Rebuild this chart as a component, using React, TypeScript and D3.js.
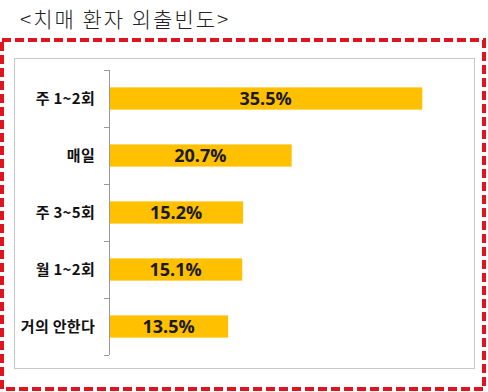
import React from "react";
import * as d3 from "d3";

const width = 488;
const height = 392;
const title = "<치매 환자 외출빈도>";
const categories = ["주 1~2회", "매일", "주 3~5회", "월 1~2회", "거의 안한다"];
const values = [35.5, 20.7, 15.2, 15.1, 13.5];
const domainMax = 40;

const plot = { left: 109, right: 462, top: 70, bottom: 355 };
const gold = "#ffc000";
const red = "#e0141e";

const App = () => {
  const xScale = d3.scaleLinear().domain([0, domainMax]).range([plot.left, plot.right]);
  const yScale = d3
    .scaleBand<string>()
    .domain(categories)
    .range([plot.top, plot.bottom])
    .paddingInner(0.61)
    .paddingOuter(0.305);
  const step = yScale.step();
  const tickYs = d3.range(categories.length + 1).map(i => plot.top + i * step);

  return (
    <div style={{ position: "absolute", left: 0, top: 0 }}>
      <svg width={width} height={height} style={{ display: "block" }}>
        <rect width={width} height={height} fill="#fff" />
        <text
          x={20}
          y={27}
          fontFamily="'Noto Sans CJK KR', sans-serif"
          fontSize={21}
          fontWeight={300}
          letterSpacing={2}
          fill="#222"
        >
          {title}
        </text>
        {/* red dashed frame */}
        <rect
          x={2}
          y={40}
          width={482}
          height={349}
          fill="none"
          stroke={red}
          strokeWidth={4}
          strokeDasharray="9 4"
        />
        {/* chart area border */}
        <rect x={14.5} y={58.5} width={460} height={310} fill="none" stroke="#c8c8c8" strokeWidth={1} />
        {/* axis */}
        <line x1={plot.left + 0.5} x2={plot.left + 0.5} y1={plot.top} y2={plot.bottom} stroke="#999" />
        {tickYs.map((y, i) => (
          <line key={i} x1={plot.left - 5} x2={plot.left} y1={y + 0.5} y2={y + 0.5} stroke="#999" />
        ))}
        {categories.map((c, i) => {
          const y = yScale(c)!;
          const bw = yScale.bandwidth();
          const x1 = xScale(values[i]);
          return (
            <g key={c}>
              <rect x={plot.left + 1} y={y} width={x1 - plot.left - 1} height={bw} fill={gold} />
              <text
                x={95}
                y={y + bw / 2}
                dy="0.36em"
                textAnchor="end"
                fontFamily="'Noto Sans CJK KR', sans-serif"
                fontSize={15}
                fontWeight={700}
                letterSpacing={0.3}
                fill="#111"
              >
                {c}
              </text>
              <text
                x={(plot.left + x1) / 2}
                y={y + bw / 2}
                dy="0.36em"
                textAnchor="middle"
                fontFamily="'Open Sans', sans-serif"
                fontSize={18}
                fontWeight={700}
                fill="#1a1a1a"
              >
                {values[i].toFixed(1)}%
              </text>
            </g>
          );
        })}
      </svg>
    </div>
  );
};

export default App;
